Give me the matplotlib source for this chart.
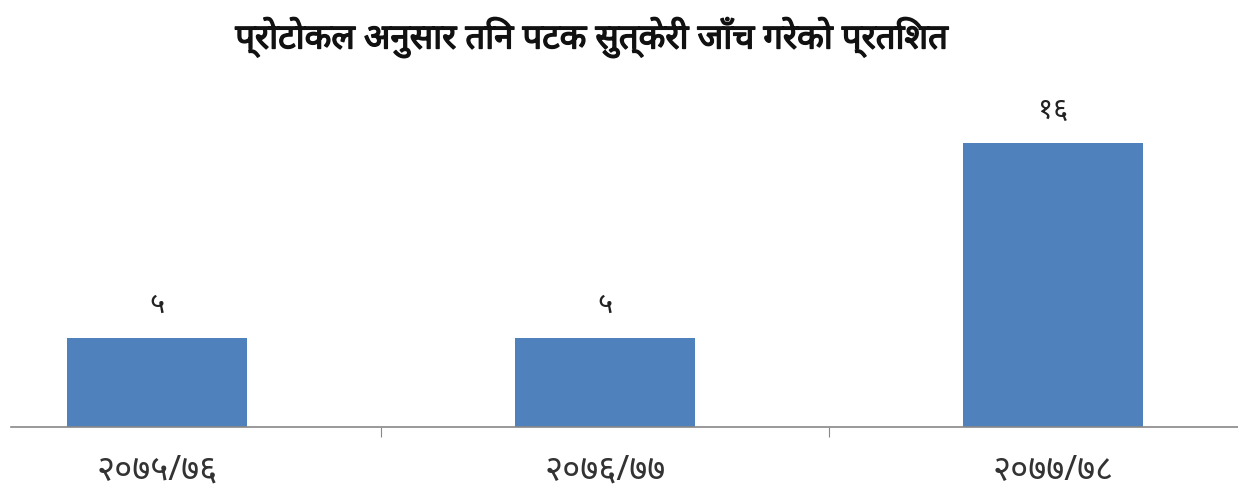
import matplotlib
matplotlib.use('Agg')
import matplotlib.pyplot as plt
import matplotlib.patheffects as pe

plt.rcParams['font.family'] = ['Noto Sans', 'DejaVu Sans']

# data
years = ['२०७५/७६', '२०७६/७७', '२०७७/७८']
values = [5, 5, 16]
value_labels = ['५', '५', '१६']
title = 'प्रोटोकल अनुसार तिन पटक सुत्केरी जाँच गरेको प्रतिशत'

fig = plt.figure(figsize=(12.38, 4.93), dpi=100)
ax = fig.add_axes([11 / 1238, 66 / 493, 1227 / 1238, 320 / 493])

x = range(len(years))
bars = ax.bar(x, values, width=0.4, color='#4F81BD')

for b, lab in zip(bars, value_labels):
    ax.text(b.get_x() + b.get_width() / 2, b.get_height() + 1.0, lab,
            ha='center', va='bottom', fontsize=21, color='#222222')

ax.set_xlim(-0.326, 2.413)
ax.set_ylim(0, 18)

# category labels at centres, tick marks at boundaries
ax.set_xticks([0.5, 1.5])
ax.set_xticklabels([])
ax.tick_params(axis='x', length=7, color='#888888', direction='out')
for i, lab in enumerate(years):
    ax.text(i, -1.5, lab, ha='center', va='top', fontsize=25, color='#333333')

ax.set_yticks([])
for s in ['top', 'left', 'right']:
    ax.spines[s].set_visible(False)
ax.spines['bottom'].set_color('#888888')
ax.spines['bottom'].set_linewidth(1.2)

fig.text(0.478, 0.925, title, ha='center', va='center', fontsize=25,
         color='#111111',
         path_effects=[pe.withStroke(linewidth=1.0, foreground='#111111')])

fig.savefig('out.png', dpi=100)
